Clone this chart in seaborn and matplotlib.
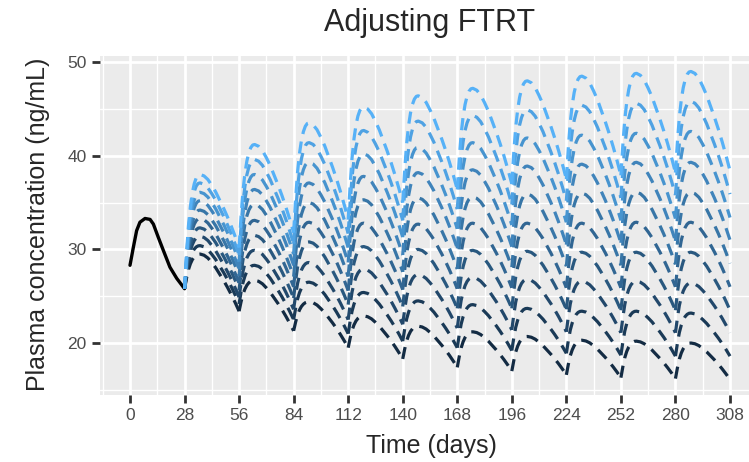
import numpy as np
import pandas as pd
import matplotlib
matplotlib.use("Agg")
import matplotlib.pyplot as plt
from matplotlib.ticker import MultipleLocator
import seaborn as sns

# first 28-day cycle, before any adjustment (black curve)
base_day = [0, 1.7, 3.4, 5.1, 7.7, 10.3, 12, 14.5, 17.1, 20.5, 24, 28]
base_conc = [28.3, 30.2, 32.0, 32.9, 33.3, 33.2, 32.7, 31.3, 29.9, 28.1, 26.9, 25.8]

# shape of one dosing interval:
# fraction of the way from start to peak, then from trough to peak
rise_day = [0, 1, 2, 3, 4, 5, 6, 7, 8]
rise_frac = [0, 0.3, 0.55, 0.72, 0.84, 0.92, 0.97, 0.995, 1.0]
fall_day = [10, 12, 14, 16, 18, 20, 22, 24, 26, 28]
fall_frac = [0.98, 0.93, 0.85, 0.76, 0.65, 0.54, 0.42, 0.29, 0.15, 0.0]

cycle_start = [28, 56, 84, 112, 140, 168, 196, 224, 252, 280]

# peak per cycle, one value per adjustment level (darkest -> lightest)
peaks = [
    [29.5, 30.4, 31.4, 32.3, 33.3, 34.2, 35.2, 36.1, 37.1, 38.0],
    [26.7, 28.3, 29.9, 31.5, 33.1, 34.8, 36.4, 38.0, 39.6, 41.2],
    [24.4, 26.5, 28.6, 30.8, 32.9, 35.0, 37.1, 39.3, 41.4, 43.5],
    [22.9, 25.4, 27.9, 30.3, 32.8, 35.3, 37.8, 40.2, 42.7, 45.2],
    [21.8, 24.5, 27.3, 30.0, 32.7, 35.5, 38.2, 40.9, 43.7, 46.4],
    [21.2, 24.1, 27.0, 29.9, 32.8, 35.6, 38.5, 41.4, 44.3, 47.2],
    [20.7, 23.7, 26.8, 29.8, 32.8, 35.9, 38.9, 41.9, 44.9, 48.0],
    [20.3, 23.4, 26.6, 29.7, 32.8, 36.0, 39.1, 42.2, 45.4, 48.5],
    [20.2, 23.4, 26.6, 29.7, 32.9, 36.1, 39.3, 42.4, 45.6, 48.8],
    [20.0, 23.2, 26.4, 29.7, 32.9, 36.1, 39.3, 42.6, 45.8, 49.0],
]
# trough at the end of each cycle
troughs = [
    [23.4, 24.2, 24.9, 25.7, 26.4, 27.2, 27.9, 28.7, 29.4, 30.2],
    [21.3, 22.5, 23.6, 24.8, 26.0, 27.1, 28.3, 29.5, 30.6, 31.8],
    [19.5, 21.0, 22.5, 24.1, 25.6, 27.1, 28.6, 30.2, 31.7, 33.2],
    [18.3, 20.2, 22.0, 23.9, 25.7, 27.6, 29.4, 31.3, 33.1, 35.0],
    [17.4, 19.5, 21.6, 23.7, 25.8, 27.9, 30.1, 32.2, 34.3, 36.4],
    [17.0, 19.2, 21.4, 23.7, 25.9, 28.1, 30.3, 32.6, 34.8, 37.0],
    [16.6, 18.9, 21.2, 23.6, 25.9, 28.2, 30.5, 32.9, 35.2, 37.5],
    [16.3, 18.7, 21.1, 23.5, 25.9, 28.3, 30.7, 33.1, 35.5, 37.9],
    [16.2, 18.6, 21.1, 23.5, 26.0, 28.4, 30.9, 33.3, 35.8, 38.2],
    [16.1, 18.6, 21.1, 23.5, 26.0, 28.5, 31.0, 33.4, 35.9, 38.4],
]

x_ticks = [0, 28, 56, 84, 112, 140, 168, 196, 224, 252, 280, 308]
y_ticks = [20, 30, 40, 50]

# build the long table for seaborn
rows = []
n_levels = len(peaks[0])
for k, start in enumerate(cycle_start):
    for lvl in range(n_levels):
        s = base_conc[-1] if k == 0 else troughs[k - 1][lvl]
        p = peaks[k][lvl]
        t = troughs[k][lvl]
        for d, f in zip(rise_day, rise_frac):
            rows.append((start + d, s + (p - s) * f, lvl, k))
        for d, f in zip(fall_day, fall_frac):
            rows.append((start + d, t + (p - t) * f, lvl, k))
df = pd.DataFrame(rows, columns=["day", "conc", "level", "cycle"])
base_df = pd.DataFrame({"day": base_day, "conc": base_conc})

sns.set_style("darkgrid", {"axes.facecolor": "#EBEBEB", "grid.color": "white"})
plt.rcParams["font.family"] = ["Liberation Sans", "DejaVu Sans"]

fig = plt.figure(figsize=(7.49, 4.62), dpi=100)
ax = fig.add_axes([100 / 749, 1 - 395 / 462, 660 / 749, (395 - 56) / 462])

colors = sns.blend_palette(["#132B43", "#56B1F7"], n_levels)
pal = {lvl: colors[lvl] for lvl in range(n_levels)}

sns.lineplot(data=base_df, x="day", y="conc", color="black", linewidth=2.4,
             ax=ax, sort=False)
n_before = len(ax.lines)
sns.lineplot(data=df, x="day", y="conc", hue="level", units="cycle",
             estimator=None, palette=pal, legend=False, linewidth=2.3,
             sort=False, ax=ax)
for line in ax.lines[n_before:]:
    line.set_linestyle((0, (3.8, 2.4)))

ax.set_xlim(-15.4, 323.4)
ax.set_ylim(14.45, 50.65)
ax.set_xticks(x_ticks)
ax.set_yticks(y_ticks)
ax.xaxis.set_minor_locator(MultipleLocator(14))
ax.yaxis.set_minor_locator(MultipleLocator(5))
ax.grid(which="major", color="white", linewidth=2.0)
ax.grid(which="minor", color="white", linewidth=1.0)
for sp in ax.spines.values():
    sp.set_visible(False)
ax.tick_params(which="major", length=5.5, width=2.0, color="#333333",
               labelsize=12.5, labelcolor="#4D4D4D", pad=4)
ax.tick_params(which="minor", length=0)
ax.tick_params(axis="x", bottom=True)
ax.tick_params(axis="y", left=True)
ax.set_xlabel("")
ax.set_ylabel("")

fig.text(430 / 749, 1 - 23 / 462, "Adjusting FTRT", ha="center", va="center",
         fontsize=22)
fig.text(431 / 749, 1 - 446 / 462, "Time (days)", ha="center", va="center",
         fontsize=18)
fig.text(38 / 749, 1 - 224 / 462, "Plasma concentration (ng/mL)", ha="center",
         va="center", rotation=90, fontsize=18)

fig.savefig("out.png", dpi=100)
